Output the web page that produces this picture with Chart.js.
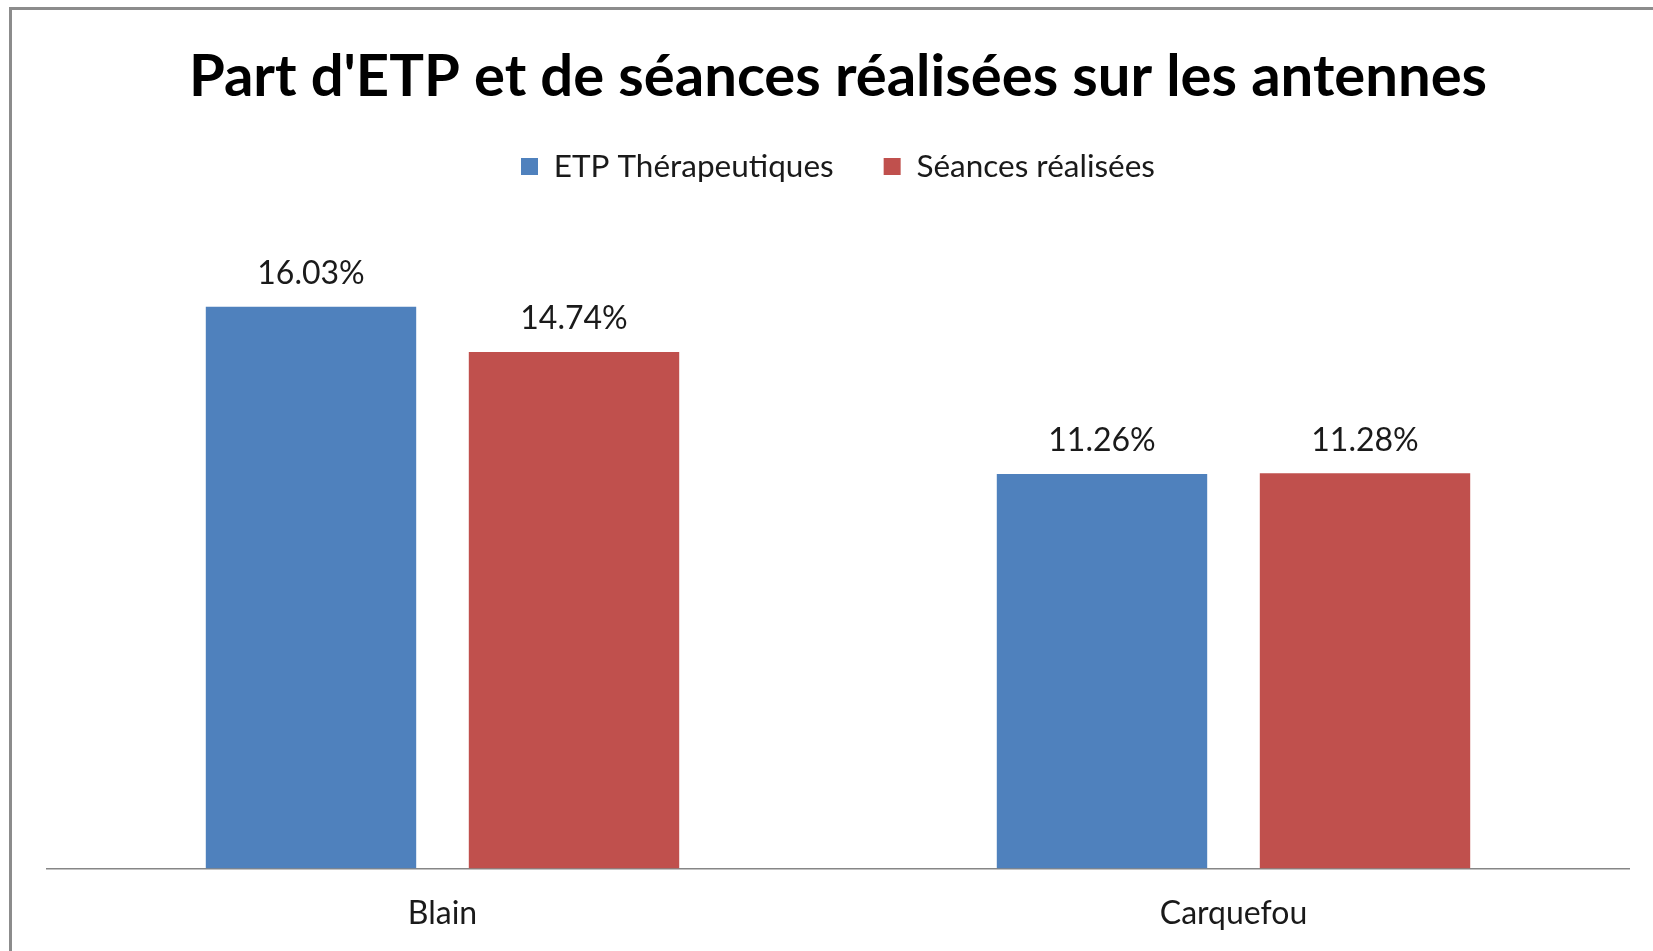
<!DOCTYPE html>
<html lang="fr">
<head>
<meta charset="utf-8">
<title>Part d'ETP et de séances réalisées sur les antennes</title>
<script src="https://cdn.jsdelivr.net/npm/chart.js@4"></script>
<style>
  html, body { margin: 0; padding: 0; background: #fff; overflow: hidden; }
  canvas { display: block; }
</style>
</head>
<body>
<canvas id="chart" width="1653" height="951"></canvas>
<script>
// données
const categories = ["Blain", "Carquefou"];
const seriesNames = ["ETP Thérapeutiques", "Séances réalisées"];
const etpValues = [16.03, 11.26];
const seancesValues = [14.74, 11.28];

const FONT = "Lato, 'Open Sans', sans-serif";

// cadre gris (bords gauche et haut visibles)
const framePlugin = {
  id: "frame",
  beforeDraw(chart) {
    const ctx = chart.ctx;
    ctx.save();
    ctx.strokeStyle = "#8c8c8c";
    ctx.lineWidth = 3;
    ctx.beginPath();
    ctx.moveTo(10.5, chart.height);
    ctx.lineTo(10.5, 8.5);
    ctx.lineTo(chart.width, 8.5);
    ctx.stroke();
    ctx.restore();
  },
};

// étiquettes de valeur au-dessus des barres
const valueLabels = {
  id: "valueLabels",
  afterDatasetsDraw(chart) {
    const ctx = chart.ctx;
    ctx.save();
    ctx.font = "32px " + FONT;
    ctx.fillStyle = "#1a1a1a";
    ctx.textAlign = "center";
    ctx.textBaseline = "middle";
    chart.data.datasets.forEach((ds, i) => {
      chart.getDatasetMeta(i).data.forEach((bar, j) => {
        ctx.fillText(ds.data[j].toFixed(2) + "%", bar.x, bar.y - 33);
      });
    });
    ctx.restore();
  },
};

new Chart(document.getElementById("chart"), {
  type: "bar",
  data: {
    labels: categories,
    datasets: [
      {
        label: seriesNames[0],
        data: etpValues,
        backgroundColor: "#4F81BD",
        borderWidth: 0,
      },
      {
        label: seriesNames[1],
        data: seancesValues,
        backgroundColor: "#C0504D",
        borderWidth: 0,
      },
    ],
  },
  options: {
    responsive: false,
    devicePixelRatio: 1,
    animation: false,
    categoryPercentage: 0.665,
    barPercentage: 0.8,
    layout: {
      padding: { left: 47, right: 24, top: 0, bottom: 0 },
    },
    scales: {
      x: {
        grid: { display: false },
        border: { display: true, color: "#868686", width: 1.5 },
        ticks: {
          color: "#1a1a1a",
          padding: 18,
          font: { family: FONT, size: 32 },
        },
      },
      y: {
        display: false,
        min: 0,
        max: 19.3,
      },
    },
    plugins: {
      title: {
        display: true,
        text: "Part d'ETP et de séances réalisées sur les antennes",
        color: "#000",
        font: { family: FONT, size: 58, weight: "bold", lineHeight: 0.9 },
        padding: { top: 51, bottom: -2.5 },
      },
      legend: {
        display: true,
        position: "top",
        labels: {
          color: "#1a1a1a",
          boxWidth: 17,
          boxHeight: 17,
          padding: 50,
          font: { family: FONT, size: 31.5 },
        },
      },
      tooltip: { enabled: false },
    },
  },
  plugins: [framePlugin, valueLabels],
});
</script>
</body>
</html>
